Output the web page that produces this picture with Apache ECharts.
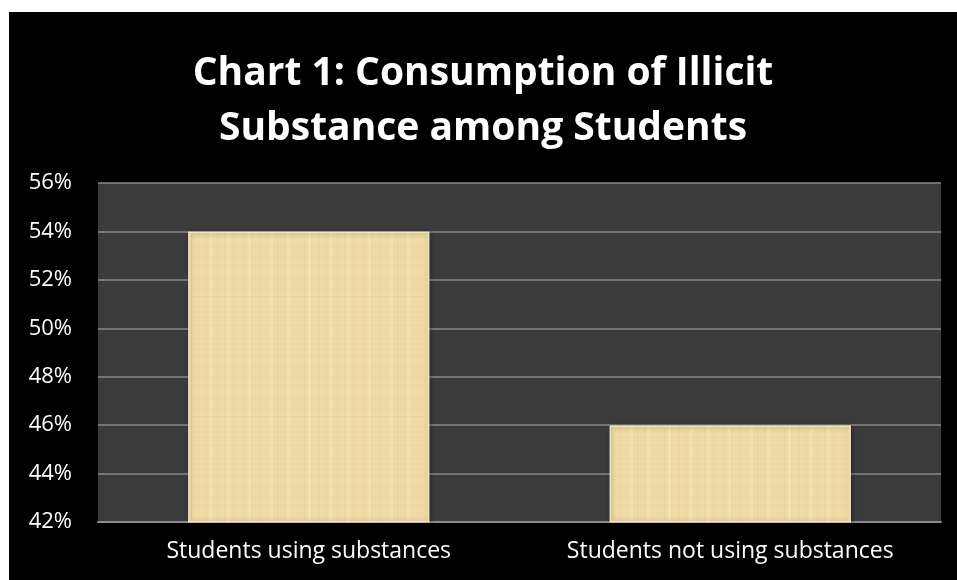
<!DOCTYPE html>
<html>
<head>
<meta charset="utf-8">
<script src="https://cdn.jsdelivr.net/npm/echarts@6/dist/echarts.min.js"></script>
<style>
html,body{margin:0;padding:0;background:#fff;}
#c{width:957px;height:580px;}
</style>
</head>
<body>
<div id="c"></div>
<script>
var categories = ["Students using substances", "Students not using substances"];
var values = [54, 46];
var yTicks = {min: 42, max: 56, step: 2};
var titleText = "Chart 1: Consumption of Illicit\nSubstance among Students";

// parchment-like texture tile (fixed pattern of faint fibres)
function makeTexture() {
  var c = document.createElement('canvas');
  c.width = 60; c.height = 60;
  var g = c.getContext('2d');
  g.fillStyle = '#efdaa5';
  g.fillRect(0, 0, 60, 60);
  var vx = [4, 11, 19, 26, 37, 44, 53];
  var hy = [6, 17, 25, 38, 49, 56];
  g.fillStyle = 'rgba(200,170,110,0.10)';
  vx.forEach(function (x) { g.fillRect(x, 0, 1, 60); });
  hy.forEach(function (y) { g.fillRect(0, y, 60, 1); });
  g.fillStyle = 'rgba(255,246,215,0.22)';
  [8, 30, 47].forEach(function (x) { g.fillRect(x, 0, 3, 60); });
  return c;
}
var tex = makeTexture();

var chart = echarts.init(document.getElementById('c'), null, {renderer: 'canvas'});

chart.setOption({
  backgroundColor: '#ffffff',
  graphic: [{
    type: 'rect', z: -10, silent: true,
    shape: {x: 9, y: 12, width: 948, height: 568},
    style: {fill: '#000000'}
  }],
  title: {
    text: titleText,
    left: 478, top: 41, textAlign: 'center',
    textStyle: {
      color: '#ffffff', fontFamily: 'Open Sans', fontWeight: 'bold',
      fontSize: 39, lineHeight: 55
    }
  },
  grid: {
    left: 98, right: 16, top: 183, bottom: 58,
    show: true, backgroundColor: '#3b3b3b', borderWidth: 0
  },
  xAxis: {
    type: 'category', data: categories,
    axisLine: {show: true, lineStyle: {color: '#8a8a8a', width: 2}},
    axisTick: {show: false},
    axisLabel: {color: '#ffffff', fontFamily: 'Open Sans', fontSize: 23, margin: 18, interval: 0}
  },
  yAxis: {
    type: 'value', min: yTicks.min, max: yTicks.max, interval: yTicks.step,
    axisLine: {show: false}, axisTick: {show: false},
    splitLine: {lineStyle: {color: '#8a8a8a', width: 1.5}},
    axisLabel: {color: '#ffffff', fontFamily: 'Open Sans', fontSize: 22, margin: 26,
      formatter: '{value}%'}
  },
  series: [{
    type: 'bar', data: values, barWidth: '57.3%',
    itemStyle: {color: {image: tex, repeat: 'repeat'}, borderColor: 'rgba(255,244,205,0.8)', borderWidth: 1.5,
      shadowColor: 'rgba(0,0,0,0.35)', shadowBlur: 4, shadowOffsetX: 1, shadowOffsetY: 1}
  }]
});
</script>
</body>
</html>
